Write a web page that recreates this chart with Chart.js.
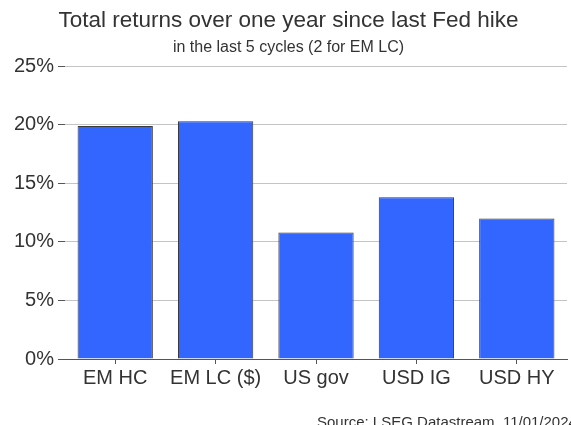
<!DOCTYPE html>
<html>
<head>
<meta charset="utf-8">
<script src="https://cdn.jsdelivr.net/npm/chart.js@4.4.1/dist/chart.umd.min.js"></script>
<style>
    html, body { margin: 0; padding: 0; background: #fff; }
    #wrap { width: 571px; height: 425px; position: relative; }
</style>
</head>
<body>
<div id="wrap"><canvas id="returnsChart"></canvas></div>
<script>
const categories = ['EM HC', 'EM LC ($)', 'US gov', 'USD IG', 'USD HY'];
const returnsPct = [19.9, 20.3, 10.8, 13.8, 12.0];
const yTicks = [0, 5, 10, 15, 20, 25];

const titleText = 'Total returns over one year since last Fed hike';
const subtitleText = 'in the last 5 cycles (2 for EM LC)';
const sourceText = 'Source: LSEG Datastream, 11/01/2024';

const textColor = '#333333';
const fontFamily = '"Liberation Sans", Arial, sans-serif';

// source line at the bottom, partly cut off like in the original
const sourcePlugin = {
    id: 'sourceNote',
    afterDraw(chart) {
        const ctx = chart.ctx;
        ctx.save();
        ctx.font = '15px ' + fontFamily;
        ctx.fillStyle = textColor;
        ctx.textAlign = 'left';
        ctx.textBaseline = 'alphabetic';
        ctx.fillText(sourceText, 317, 427);
        ctx.restore();
    }
};

const ctx = document.getElementById('returnsChart').getContext('2d');
new Chart(ctx, {
    type: 'bar',
    data: {
        labels: categories,
        datasets: [{
            data: returnsPct,
            backgroundColor: '#3366FF',
            borderColor: '#3a3a3a',
            borderWidth: 1,
            categoryPercentage: 0.75,
            barPercentage: 1
        }]
    },
    options: {
        responsive: true,
        maintainAspectRatio: false,
        animation: false,
        layout: {
            padding: { left: 10, right: 4, top: 0, bottom: 33 }
        },
        scales: {
            x: {
                grid: {
                    offset: false,
                    drawOnChartArea: false,
                    drawTicks: true,
                    tickLength: 5,
                    color: '#555555'
                },
                border: { display: true, color: '#555555', width: 1 },
                ticks: {
                    color: textColor,
                    font: { family: fontFamily, size: 20 },
                    padding: 2,
                    maxRotation: 0
                }
            },
            y: {
                min: 0,
                max: 25,
                afterBuildTicks: (scale) => {
                    scale.ticks = yTicks.map(v => ({ value: v }));
                },
                grid: {
                    color: (c) => c.tick && c.tick.value === 0 ? '#555555' : '#c4c4c4',
                    tickColor: '#555555',
                    tickLength: 7
                },
                border: { display: false },
                ticks: {
                    color: textColor,
                    font: { family: fontFamily, size: 20 },
                    padding: 4,
                    callback: (v) => v + '%'
                }
            }
        },
        plugins: {
            legend: { display: false },
            tooltip: { enabled: false },
            title: {
                display: true,
                text: titleText,
                color: textColor,
                font: { family: fontFamily, size: 22.5, weight: 'normal' },
                padding: { top: 7, bottom: 4 }
            },
            subtitle: {
                display: true,
                text: subtitleText,
                color: textColor,
                font: { family: fontFamily, size: 16, weight: 'normal' },
                padding: { top: 0, bottom: 9 }
            }
        }
    },
    plugins: [sourcePlugin]
});
</script>
</body>
</html>
